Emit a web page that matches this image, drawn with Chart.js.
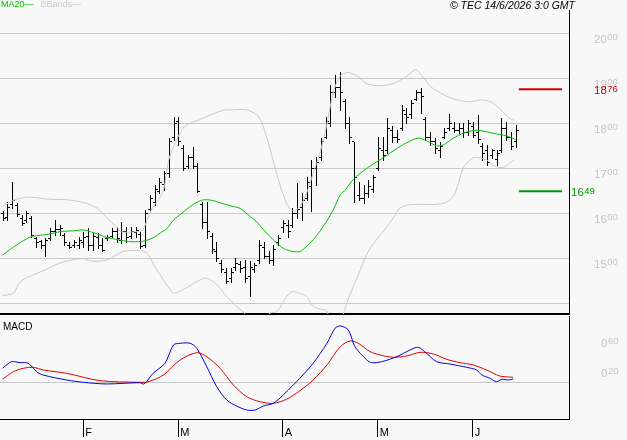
<!DOCTYPE html>
<html>
<head>
<meta charset="utf-8">
<script src="https://cdn.jsdelivr.net/npm/chart.js@4/dist/chart.umd.min.js"></script>
<style>
  body { margin: 0; background: #f8f8f8; }
  #cadre { position: relative; width: 627px; height: 440px; overflow: hidden; background: #f8f8f8; font-family: "Liberation Sans", Arial, sans-serif; }
  canvas { position: absolute; left: 0; }
  .txt { position: absolute; white-space: nowrap; line-height: 1; }
</style>
</head>
<body>
<div id="cadre">
  <canvas id="prix" width="627" height="317" style="top:0"></canvas>
  <canvas id="macd" width="627" height="124" style="top:316px"></canvas>
  <div class="txt" style="left:1px;top:0;font-size:9px"><span style="color:#00c000">MA20—</span><span style="color:#c8c8c8;margin-left:7px">BBands—</span></div>
  <div class="txt" style="right:52px;top:0;font-size:10.5px;font-style:italic;color:#000">© TEC 14/6/2026 3:0 GMT</div>
  <div class="txt" style="left:3px;top:322px;font-size:10px;color:#000">MACD</div>
</div>
<script>
// seances : index 0 = 8 janv., dernier = 12 juin
let mois = ['F', 'M', 'A', 'M', 'J']
let moisIdx = [17, 37, 59, 79, 99]

let ouv = [1600, 1592, 1620, 1618, 1590, 1585, 1590, 1545, 1538, 1530,
  1545, 1560, 1565, 1552, 1530, 1530, 1530, 1535, 1550, 1530,
  1548, 1530, 1545, 1550, 1560, 1540, 1560, 1550, 1558, 1555,
  1530, 1610, 1625, 1650, 1665, 1690, 1770, 1805, 1745, 1705,
  1725, 1705, 1620, 1580, 1550, 1515, 1490, 1470, 1455, 1480,
  1488, 1480, 1460, 1475, 1495, 1525, 1505, 1495, 1535, 1570,
  1575, 1575, 1600, 1615, 1635, 1660, 1700, 1725, 1770, 1800,
  1870, 1880, 1850, 1800, 1760, 1640, 1635, 1645, 1655, 1700,
  1740, 1740, 1785, 1770, 1790, 1820, 1820, 1855, 1870, 1810,
  1770, 1760, 1740, 1770, 1790, 1790, 1785, 1790, 1780, 1795,
  1780, 1750, 1740, 1730, 1720, 1740, 1790, 1770, 1760]
let hauts = [1604, 1626, 1670, 1622, 1596, 1604, 1593, 1548, 1541, 1544,
  1567, 1585, 1574, 1556, 1537, 1541, 1548, 1559, 1567, 1556,
  1556, 1544, 1552, 1567, 1570, 1581, 1570, 1570, 1570, 1559,
  1607, 1641, 1663, 1678, 1693, 1767, 1815, 1815, 1752, 1730,
  1748, 1711, 1626, 1626, 1556, 1537, 1496, 1478, 1478, 1500,
  1493, 1496, 1493, 1489, 1541, 1537, 1515, 1530, 1552, 1585,
  1585, 1611, 1667, 1644, 1681, 1719, 1726, 1767, 1815, 1885,
  1907, 1915, 1853, 1815, 1759, 1670, 1663, 1674, 1685, 1770,
  1770, 1811, 1793, 1785, 1841, 1833, 1852, 1874, 1878, 1815,
  1781, 1767, 1759, 1789, 1820, 1804, 1800, 1800, 1807, 1804,
  1819, 1756, 1752, 1744, 1741, 1811, 1804, 1781, 1796]
let bas = [1585, 1585, 1611, 1593, 1574, 1581, 1548, 1526, 1522, 1506,
  1541, 1552, 1552, 1530, 1522, 1526, 1522, 1526, 1519, 1519,
  1522, 1515, 1541, 1548, 1537, 1533, 1537, 1544, 1548, 1522,
  1526, 1604, 1619, 1644, 1652, 1681, 1763, 1752, 1696, 1700,
  1700, 1648, 1567, 1544, 1511, 1493, 1470, 1444, 1448, 1474,
  1470, 1448, 1415, 1470, 1489, 1500, 1489, 1485, 1530, 1559,
  1548, 1570, 1589, 1585, 1630, 1604, 1663, 1719, 1767, 1793,
  1859, 1830, 1789, 1756, 1626, 1630, 1622, 1637, 1648, 1696,
  1719, 1733, 1759, 1759, 1785, 1800, 1811, 1852, 1822, 1763,
  1752, 1733, 1726, 1767, 1785, 1781, 1778, 1770, 1774, 1770,
  1756, 1719, 1707, 1722, 1707, 1737, 1763, 1744, 1748]
let clot = [1590, 1615, 1630, 1598, 1578, 1600, 1552, 1535, 1530, 1540,
  1560, 1565, 1568, 1535, 1526, 1535, 1540, 1548, 1530, 1550,
  1530, 1518, 1548, 1560, 1545, 1560, 1548, 1560, 1562, 1528,
  1600, 1635, 1655, 1670, 1690, 1760, 1800, 1760, 1700, 1725,
  1705, 1650, 1580, 1560, 1520, 1500, 1475, 1450, 1470, 1490,
  1478, 1455, 1480, 1485, 1530, 1505, 1495, 1520, 1545, 1578,
  1560, 1600, 1610, 1630, 1670, 1700, 1715, 1760, 1805, 1870,
  1880, 1870, 1800, 1770, 1680, 1635, 1645, 1660, 1680, 1745,
  1730, 1790, 1770, 1765, 1830, 1815, 1845, 1870, 1860, 1770,
  1760, 1745, 1750, 1780, 1800, 1785, 1790, 1780, 1800, 1775,
  1765, 1735, 1715, 1740, 1735, 1790, 1770, 1750, 1785]

// [index, valeur]
let ma20 = [[0, 1507], [3, 1530], [6, 1548], [8, 1551], [10, 1554], [12, 1559], [15, 1561], [17, 1563],
  [18.5, 1559], [20.5, 1552], [22, 1546], [24.5, 1541], [26.5, 1537], [29, 1537], [30.4, 1540],
  [32, 1547], [33.2, 1556], [34.6, 1566], [36, 1585], [38, 1602], [39.5, 1615], [41.9, 1629],
  [44, 1629], [46.5, 1621], [48.6, 1615], [50, 1611], [52.1, 1593], [53.5, 1581], [55, 1563],
  [57, 1541], [59.1, 1522], [61.2, 1515], [62.6, 1515], [64, 1526], [65.4, 1541], [67.5, 1570],
  [69.6, 1607], [71.1, 1641], [72.2, 1652], [73.9, 1676], [76.7, 1700], [79.5, 1719], [82.3, 1739],
  [85.1, 1757], [87.6, 1767], [89.3, 1761], [91.4, 1750], [92.8, 1752], [94.9, 1767], [97, 1778],
  [99.1, 1784], [100.5, 1784], [103.3, 1778], [106.1, 1772], [108, 1764]]
let bbHaut = [[0, 1615], [2.6, 1630], [5.4, 1636], [10, 1631], [13.5, 1630], [17, 1624], [20, 1611],
  [22, 1589], [24, 1570], [25, 1559], [28, 1559], [29.5, 1563], [31.3, 1607], [32.8, 1630],
  [33.9, 1652], [35, 1719], [36.5, 1760], [38, 1789], [39.5, 1800], [41.5, 1808], [43, 1815],
  [46.5, 1829], [48.6, 1830], [51.4, 1830], [53.9, 1815], [55.6, 1770], [57.7, 1689], [59.8, 1622],
  [61.2, 1605], [62.6, 1615], [64, 1644], [65.4, 1689], [66.8, 1733], [68.2, 1793], [69.6, 1867],
  [71, 1904], [72.7, 1913], [74.8, 1904], [76.9, 1887], [81, 1885], [84.5, 1900], [87, 1919],
  [88.4, 1904], [90.2, 1881], [93, 1863], [95.8, 1852], [98.6, 1848], [100.7, 1852], [102.8, 1848],
  [104.9, 1830], [106.7, 1811], [107.6, 1807]]
let bbBas = [[0, 1417], [2.3, 1422], [3.7, 1448], [6.5, 1463], [9, 1474], [12, 1489], [15.6, 1498],
  [17, 1499], [19, 1493], [21.9, 1496], [24, 1507], [25.3, 1515], [28.9, 1517], [30.4, 1511],
  [32.5, 1474], [35.3, 1430], [36, 1422], [38, 1430], [40.9, 1448], [43, 1456], [45.1, 1441],
  [47.2, 1415], [48.6, 1400], [50.7, 1380], [52.8, 1358], [54.2, 1348], [55.2, 1363], [56.3, 1378],
  [57.7, 1381], [59.1, 1403], [59.8, 1415], [61.2, 1426], [62.6, 1422], [64, 1416], [65.4, 1393],
  [66.8, 1387], [68.2, 1383], [69.6, 1347], [71, 1356], [72.7, 1407], [74.8, 1460], [76.9, 1513],
  [79.5, 1552], [81, 1571], [82.6, 1595], [83.5, 1610], [85.5, 1619], [92.5, 1621], [94.9, 1637],
  [97, 1700], [98.8, 1722], [99.8, 1724], [101.9, 1719], [103.6, 1705], [105.3, 1702], [106.7, 1711],
  [107.7, 1719]]

let macdLigne = [[0, 0.196], [1.9, 0.284], [3.7, 0.271], [5.4, 0.263], [7.2, 0.151], [8.5, 0.107],
  [13.5, 0.04], [17, 0.009], [21.9, -0.013], [28.9, 0.004], [29.8, -0.013], [31.7, 0.129],
  [34.2, 0.263], [36, 0.507], [37.4, 0.529], [39.5, 0.529], [40.9, 0.463], [43, 0.217],
  [45.1, -0.049], [47.2, -0.227], [49.3, -0.307], [51.4, -0.36], [53.2, -0.36], [54.9, -0.307],
  [57, -0.271], [59.1, -0.16], [61.2, -0.027], [62.6, 0.063], [65.4, 0.263], [68.3, 0.529],
  [70, 0.729], [71.1, 0.76], [72.8, 0.707], [74.2, 0.484], [76.7, 0.307], [77.7, 0.271],
  [79.8, 0.284], [83, 0.351], [85.8, 0.44], [87.5, 0.476], [88.9, 0.417], [91.4, 0.284],
  [94.2, 0.253], [97.7, 0.209], [99.8, 0.173], [100.9, 0.107], [102.6, 0.063], [104, 0.017],
  [105.1, 0.049], [106.5, 0.04], [107.5, 0.053]]
let macdSignal = [[0, 0.049], [2.3, 0.151], [4.4, 0.196], [6.5, 0.209], [8.6, 0.173], [13.5, 0.129],
  [20.5, 0.031], [28.9, 0.009], [30.7, 0.017], [33.9, 0.107], [37.4, 0.307], [40.9, 0.404],
  [43, 0.351], [45.8, 0.196], [48.6, -0.027], [51.4, -0.183], [54.2, -0.249], [57, -0.271],
  [59.8, -0.217], [62.6, -0.103], [65.4, 0.04], [68.3, 0.24], [71.1, 0.484], [73.2, 0.56],
  [74.9, 0.529], [77.4, 0.417], [79.5, 0.373], [82.3, 0.343], [85.1, 0.36], [87.9, 0.409],
  [90.7, 0.387], [93.5, 0.316], [96.3, 0.271], [99.1, 0.24], [101.9, 0.173], [104.7, 0.093],
  [107.5, 0.076]]

let prixTicks = [1400, 1500, 1600, 1700, 1800, 1900, 2000]
let macdTicks = [0, 0.2, 0.6]
let niveaux = [1876, 1649]
let niveauxCouleur = ['#cc0000', '#009900']
let niveauDebut = 108.7, niveauFin = 117.8

const xMin = -0.53, xMax = 119.26
const police = '"Liberation Sans", Arial, sans-serif'

// coupe "2000" en "20" + "00" (exposant), "0.60" en "0" + "60"
function coupePrix(v) {
  let s = String(v)
  return [s.slice(0, 2), s.slice(2)]
}
function coupeMacd(v) {
  let s = v.toFixed(2).split('.')
  return [s[0], s[1]]
}

function ecrire(ctx, morceaux, x, py, couleur, bas, haut) {
  ctx.fillStyle = couleur
  ctx.font = '11.5px ' + police
  ctx.fillText(morceaux[0], x, py + bas)
  let w = ctx.measureText(morceaux[0]).width
  ctx.font = '9.5px ' + police
  ctx.fillText(morceaux[1], x + w + 0.5, py + haut)
}

function pts(liste) {
  return liste.map(p => ({ x: p[0], y: p[1] }))
}

const barresOhlc = {
  id: 'barresOhlc',
  beforeDatasetsDraw(chart) {
    const ctx = chart.ctx
    const x = chart.scales.x, y = chart.scales.y
    ctx.save()
    ctx.strokeStyle = '#000'
    ctx.lineWidth = 1
    ctx.beginPath()
    for (let i = 0; i < hauts.length; i++) {
      let px = Math.round(x.getPixelForValue(i)) + 0.5
      let yh = Math.round(y.getPixelForValue(hauts[i]))
      let yb = Math.round(y.getPixelForValue(bas[i]))
      let yo = Math.round(y.getPixelForValue(ouv[i])) + 0.5
      let yc = Math.round(y.getPixelForValue(clot[i])) + 0.5
      ctx.moveTo(px, yh)
      ctx.lineTo(px, yb + 1)
      ctx.moveTo(px - 0.5, yo)
      ctx.lineTo(px - 2.5, yo)
      ctx.moveTo(px + 0.5, yc)
      ctx.lineTo(px + 2.5, yc)
    }
    ctx.stroke()
    ctx.restore()
  },
  afterDraw(chart) {
    const ctx = chart.ctx
    const y = chart.scales.y
    ctx.save()
    ctx.textBaseline = 'alphabetic'
    ctx.textAlign = 'left'
    y.ticks.forEach(t => {
      if (t.value < 1500) return
      ecrire(ctx, coupePrix(t.value), 594, y.getPixelForValue(t.value), '#c4c4c4', 10, 6.7)
    })
    // 1876 en face de l'échelle, 1649 collé à l'axe
    let xs = [594, 571]
    for (let i = 0; i < niveaux.length; i++) {
      ecrire(ctx, coupePrix(niveaux[i]), xs[i], y.getPixelForValue(niveaux[i]), niveauxCouleur[i], 5, 2.7)
    }
    ctx.restore()
  }
}

const echelleMacd = {
  id: 'echelleMacd',
  afterDraw(chart) {
    const ctx = chart.ctx
    const y = chart.scales.y
    ctx.save()
    ctx.textBaseline = 'alphabetic'
    ctx.textAlign = 'left'
    y.ticks.forEach(t => {
      if (t.value === 0) return
      ecrire(ctx, coupeMacd(t.value), 601, y.getPixelForValue(t.value), '#c4c4c4', 9, 6)
    })
    ctx.restore()
  }
}

function sansMarges(s) {
  s.paddingTop = 0
  s.paddingBottom = 0
  s.paddingLeft = 0
  s.paddingRight = 0
}

window.onload = function () {
  let jeux = [
    { data: pts(bbHaut), borderColor: '#c8c8c8' },
    { data: pts(bbBas), borderColor: '#c8c8c8' },
    { data: pts(ma20), borderColor: '#00c000' }
  ]
  for (let i = 0; i < niveaux.length; i++) {
    jeux.push({
      data: [{ x: niveauDebut, y: niveaux[i] }, { x: niveauFin, y: niveaux[i] }],
      borderColor: niveauxCouleur[i], borderWidth: 2, tension: 0
    })
  }
  jeux.forEach(d => {
    d.borderWidth = d.borderWidth || 1
    d.pointRadius = 0
    if (d.tension === undefined) d.tension = 0.3
  })

  new Chart(document.getElementById('prix'), {
    type: 'line',
    data: { datasets: jeux },
    options: {
      responsive: false,
      animation: false,
      events: [],
      layout: { padding: { top: 10, bottom: 3, left: 0, right: 0 } },
      plugins: { legend: { display: false }, tooltip: { enabled: false } },
      scales: {
        x: {
          type: 'linear', min: xMin, max: xMax,
          ticks: { display: false },
          grid: { display: true, drawOnChartArea: false, drawTicks: false, color: 'rgba(0,0,0,0)' },
          border: { color: '#000', width: 2 },
          afterFit(s) { s.height = 0; sansMarges(s) }
        },
        y: {
          position: 'right', min: 1376, max: 2052,
          afterBuildTicks(s) { s.ticks = prixTicks.map(v => ({ value: v })) },
          grid: { color: '#c8c8c8', drawTicks: false },
          border: { color: '#000', width: 1 },
          ticks: { display: false },
          afterFit(s) { s.width = 58; sansMarges(s) }
        }
      }
    },
    plugins: [barresOhlc]
  })

  new Chart(document.getElementById('macd'), {
    type: 'line',
    data: {
      datasets: [
        { data: pts(macdLigne), borderColor: '#0000dd', borderWidth: 1, pointRadius: 0, tension: 0.3 },
        { data: pts(macdSignal), borderColor: '#dd0000', borderWidth: 1, pointRadius: 0, tension: 0.3 }
      ]
    },
    options: {
      responsive: false,
      animation: false,
      events: [],
      layout: { padding: 0 },
      plugins: { legend: { display: false }, tooltip: { enabled: false } },
      scales: {
        x: {
          type: 'linear', min: xMin, max: xMax,
          afterBuildTicks(s) { s.ticks = moisIdx.map(v => ({ value: v })) },
          ticks: {
            callback: (v, i) => mois[i], align: 'start', padding: -11, labelOffset: 2,
            maxRotation: 0, autoSkip: false, color: '#000',
            font: { size: 11, family: police }
          },
          grid: { drawOnChartArea: false, drawTicks: true, tickLength: 18, color: '#000' },
          border: { color: '#000', width: 1 },
          afterFit(s) { s.height = 21; sansMarges(s) }
        },
        y: {
          position: 'right', min: -0.48, max: 0.893,
          afterBuildTicks(s) { s.ticks = macdTicks.map(v => ({ value: v })) },
          grid: { color: c => c.tick && c.tick.value === 0 ? '#c8c8c8' : 'rgba(0,0,0,0)', drawTicks: false },
          border: { color: '#000', width: 1 },
          ticks: { display: false },
          afterFit(s) { s.width = 58; sansMarges(s) }
        }
      }
    },
    plugins: [echelleMacd]
  })
}
</script>
</body>
</html>
